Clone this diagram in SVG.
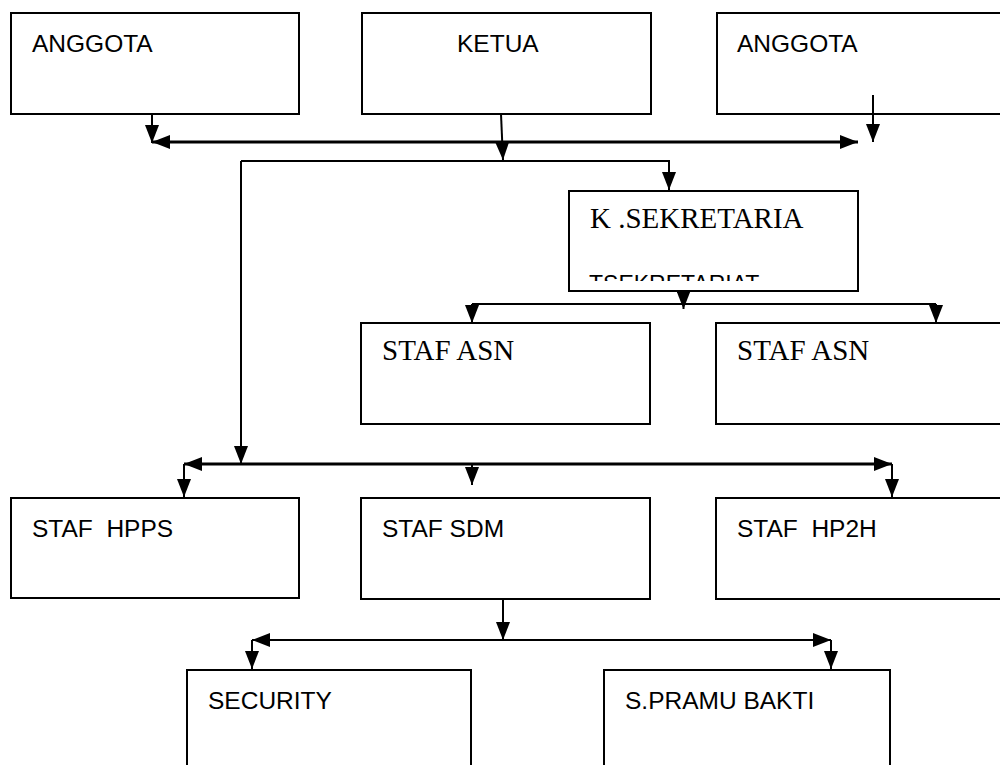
<svg xmlns="http://www.w3.org/2000/svg" width="1000" height="765" viewBox="0 0 1000 765">
<defs>
<style>
.box{fill:#fff;stroke:#000;stroke-width:2}
.sans{font-family:"Liberation Sans",Arial,sans-serif;font-size:24.5px;fill:#000}
.serif{font-family:"Liberation Serif","Times New Roman",serif;font-size:29px;fill:#000}
.c{fill:none;stroke:#000;stroke-width:2}
.thick{stroke-width:3}
.a{marker-end:url(#ah)}
.aa{marker-end:url(#ah);marker-start:url(#ah)}
</style>
<marker id="ah" viewBox="0 0 18 14" refX="18" refY="7" markerUnits="userSpaceOnUse" markerWidth="18" markerHeight="14" orient="auto-start-reverse">
<path d="M0,0 L18,7 L0,14 z" fill="#000"/>
</marker>
<clipPath id="clipSek"><rect x="570" y="192" width="287" height="89"/></clipPath>
</defs>
<rect width="1000" height="765" fill="#fff"/>

<g id="node-anggota-left"><rect class="box" x="11" y="13" width="288" height="101"/><text class="sans" x="32" y="52">ANGGOTA</text></g>
<g id="node-ketua"><rect class="box" x="362" y="13" width="289" height="101"/><text class="sans" x="457" y="52">KETUA</text></g>
<g id="node-anggota-right"><rect class="box" x="717" y="13" width="300" height="101"/><text class="sans" x="737" y="52">ANGGOTA</text></g>
<g id="node-ksekretariat"><rect class="box" x="569" y="191" width="289" height="100"/><text class="serif" x="590" y="228">K .SEKRETARIA</text><text class="sans" x="589" y="292" style="font-size:23px" clip-path="url(#clipSek)">TSEKRETARIAT</text></g>
<g id="node-staf-asn-left"><rect class="box" x="361" y="323" width="289" height="101"/><text class="serif" x="382" y="360">STAF ASN</text></g>
<g id="node-staf-asn-right"><rect class="box" x="716" y="323" width="300" height="101"/><text class="serif" x="737" y="360">STAF ASN</text></g>
<g id="node-staf-hpps"><rect class="box" x="11" y="498" width="288" height="100"/><text class="sans" x="32" y="537" xml:space="preserve">STAF  HPPS</text></g>
<g id="node-staf-sdm"><rect class="box" x="361" y="498" width="289" height="101"/><text class="sans" x="382" y="537">STAF SDM</text></g>
<g id="node-staf-hp2h"><rect class="box" x="716" y="498" width="300" height="101"/><text class="sans" x="737" y="537" xml:space="preserve">STAF  HP2H</text></g>
<g id="node-security"><rect class="box" x="187" y="670" width="284" height="110"/><text class="sans" x="208" y="709">SECURITY</text></g>
<g id="node-pramu-bakti"><rect class="box" x="604" y="670" width="286" height="110"/><text class="sans" x="625" y="709">S.PRAMU BAKTI</text></g>

<g id="connectors">
<path class="c a" d="M152,114 V143"/>
<path class="c thick aa" d="M152,142 H858"/>
<path class="c a" d="M501,114 L503,160"/>
<path class="c a" d="M873,95 V142"/>
<path class="c a" d="M241,161 V464"/>
<path class="c a" d="M241,161 H669 V190"/>
<path class="c a" d="M683.5,291 V309"/>
<path class="c" d="M472,304 H936"/>
<path class="c a" d="M472,304 V323"/>
<path class="c a" d="M936,304 V323"/>
<path class="c thick aa" d="M184,464 H892"/>
<path class="c a" d="M184,464 V497"/>
<path class="c a" d="M892,464 V497"/>
<path class="c a" d="M472,464 V485"/>
<path class="c a" d="M503,599 V640"/>
<path class="c aa" d="M252,640 H831"/>
<path class="c a" d="M252,640 V669"/>
<path class="c a" d="M831,640 V669"/>
</g>
</svg>
